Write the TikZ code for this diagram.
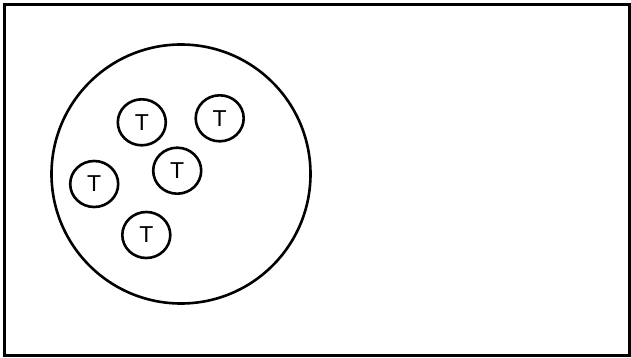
\documentclass[tikz,border=0pt]{standalone}
\usepackage{fontspec}
\setmainfont{Liberation Sans}
\usetikzlibrary{shapes.geometric}
\begin{document}
\begin{tikzpicture}[x=1pt,y=-1pt,
  frame/.style={draw=black,line width=2.6pt},
  bigset/.style={draw=black,line width=2.6pt,circle,minimum size=259pt,inner sep=0pt},
  tnode/.style={draw=black,line width=2.6pt,ellipse,minimum width=48pt,minimum height=46pt,inner sep=0pt,font=\fontsize{23}{27}\selectfont}]
\useasboundingbox (0,0) rectangle (631,358);
\node[frame,rectangle,minimum width=625pt,minimum height=351pt,inner sep=0pt,anchor=north west] (frame) at (3,3) {};
\node[bigset] (set) at (181,174) {};
\node[tnode] (t1) at (141.8,122.3) {T};
\node[tnode] (t2) at (219.7,118.3) {T};
\node[tnode] (t3) at (177.2,170.7) {T};
\node[tnode] (t4) at (94.2,184) {T};
\node[tnode] (t5) at (146.3,235) {T};
\end{tikzpicture}
\end{document}
